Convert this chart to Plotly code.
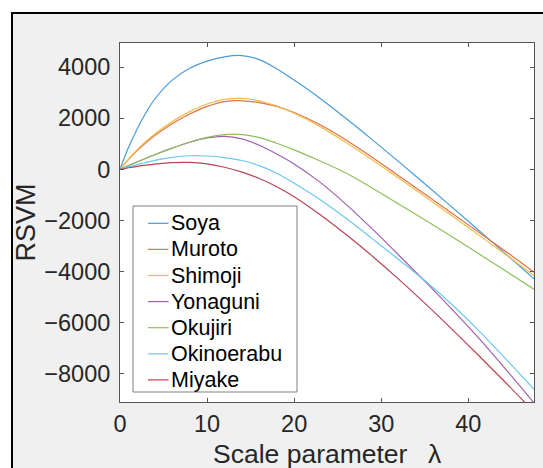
import plotly.graph_objects as go

# Scale parameter grid (lambda)
lam = [0, 1, 2, 3, 4, 6, 8, 10, 12, 14, 16, 18, 20, 23, 26, 29, 32, 35, 38, 41, 44, 47.6]

soya = [0, 870, 1600, 2220, 2750, 3490, 3950, 4230, 4400, 4450, 4290, 3935, 3490, 2770, 1975, 1150, 301, -563, -1439, -2324, -3218, -4298]
muroto = [0, 390, 740, 1050, 1320, 1780, 2160, 2460, 2650, 2680, 2610, 2460, 2220, 1740, 1140, 465, -249, -969, -1689, -2409, -3135, -4035]
shimoji = [0, 410, 775, 1100, 1385, 1865, 2255, 2555, 2735, 2775, 2675, 2475, 2195, 1670, 1040, 365, -340, -1060, -1786, -2521, -3262, -4162]
yonaguni = [0, 150, 295, 435, 570, 830, 1060, 1230, 1290, 1190, 940, 600, 210, -510, -1380, -2340, -3350, -4375, -5430, -6525, -7695, -9153]
okujiri = [0, 150, 295, 435, 570, 830, 1060, 1250, 1360, 1360, 1240, 1020, 760, 325, -155, -740, -1355, -1976, -2612, -3257, -3911, -4703]
okinoerabu = [0, 95, 185, 270, 350, 470, 530, 520, 460, 345, 145, -155, -545, -1190, -1925, -2720, -3524, -4349, -5249, -6239, -7304, -8618]
miyake = [0, 62, 117, 164, 204, 260, 270, 210, 80, -110, -360, -680, -1070, -1775, -2561, -3401, -4295, -5234, -6209, -7214, -8240, -9500]

names = ["Soya", "Muroto", "Shimoji", "Yonaguni", "Okujiri", "Okinoerabu", "Miyake"]
series = [soya, muroto, shimoji, yonaguni, okujiri, okinoerabu, miyake]
colors = ["#4a9bd6", "#e0714a", "#f0bd4a", "#a060b0", "#8fbf5a", "#6cc8f0", "#bb4455"]

x_ticks = [0, 10, 20, 30, 40]
y_ticks = [-8000, -6000, -4000, -2000, 0, 2000, 4000]
x_title = "Scale parameter \u2002\u03bb"
y_title = "RSVM"

FONT = "Liberation Sans"
TXT = "#262626"
W, H = 543, 468
ML, MR, MT, MB = 120, 9, 43, 66
PW, PH = W - ML - MR, H - MT - MB


def px2x(px):
    return (px - ML) / PW


def py2y(py):
    return (H - MB - py) / PH


fig = go.Figure()
for n, s, c in zip(names, series, colors):
    fig.add_trace(go.Scatter(x=lam, y=s, name=n, mode="lines", showlegend=False,
                             line=dict(color=c, width=1.2, shape="spline", smoothing=1.0)))

axis_common = dict(showline=True, linecolor="#555555", linewidth=1, mirror="ticks",
                   ticks="inside", ticklen=4, tickcolor="#555555", showgrid=False,
                   zeroline=False, tickfont=dict(family=FONT, size=23.5, color=TXT))

shapes = [
    dict(type="rect", xref="paper", yref="paper", x0=px2x(12), x1=px2x(600), y0=py2y(520), y1=py2y(13),
         fillcolor="#f0f0f0", line=dict(color="black", width=2), layer="below"),
    dict(type="rect", xref="paper", yref="paper", x0=0, x1=1, y0=0, y1=1,
         fillcolor="white", line=dict(width=0), layer="below"),
    # legend box
    dict(type="rect", xref="paper", yref="paper", x0=px2x(133), x1=px2x(297), y0=py2y(392), y1=py2y(206),
         fillcolor="white", line=dict(color="#808080", width=1), layer="above"),
]
annotations = []
row0, drow = 223.3, 26.1
for i, (n, c) in enumerate(zip(names, colors)):
    yy = py2y(row0 + i * drow)
    shapes.append(dict(type="line", xref="paper", yref="paper", x0=px2x(148), x1=px2x(168.5), y0=yy, y1=yy,
                       line=dict(color=c, width=1.2), layer="above"))
    annotations.append(dict(text=n, xref="paper", yref="paper", x=px2x(168.5), y=yy, xanchor="left",
                            yanchor="middle", showarrow=False, font=dict(family=FONT, size=21.5, color="black")))

# x-axis title placed as an annotation so that it can sit as low as in the reference
annotations.append(dict(text=x_title, xref="paper", yref="paper", x=0.5, y=py2y(438.5), xanchor="center",
                        yanchor="top", showarrow=False, borderpad=0, borderwidth=0,
                        font=dict(family=FONT, size=26.5, color=TXT)))

fig.update_layout(
    width=W, height=H,
    margin=dict(l=ML, r=MR, t=MT, b=MB, autoexpand=False),
    paper_bgcolor="white", plot_bgcolor="white",
    font=dict(family=FONT, color=TXT),
    xaxis=dict(range=[0, 47.55], tickvals=x_ticks, ticklabelstandoff=1, **axis_common),
    yaxis=dict(range=[-9100, 4940], tickvals=y_ticks, ticklabelstandoff=4,
               title=dict(text=y_title, font=dict(family=FONT, size=27, color=TXT), standoff=0),
               **axis_common),
    showlegend=False,
    shapes=shapes,
    annotations=annotations,
)

fig.write_html("out.html")
